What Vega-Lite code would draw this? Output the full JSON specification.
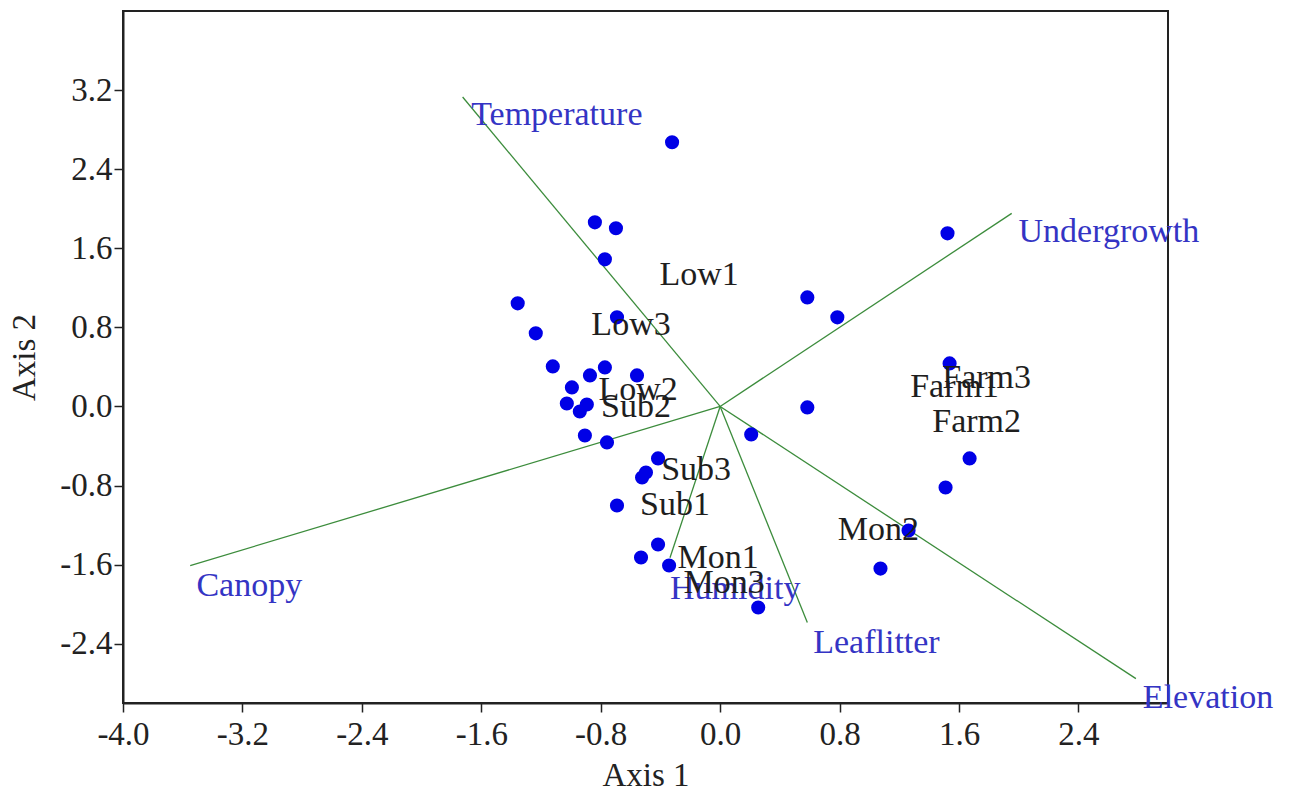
{
  "$schema": "https://vega.github.io/schema/vega-lite/v6.json",
  "width": 1045,
  "height": 692,
  "autosize": {"type": "none"},
  "padding": {"left": 123, "top": 11, "right": 122, "bottom": 89},
  "background": "white",
  "config": {
    "view": {"stroke": "#222222", "strokeWidth": 2},
    "font": "Liberation Serif",
    "axis": {
      "grid": false,
      "domainColor": "#222222",
      "domainWidth": 2,
      "tickColor": "#222222",
      "tickWidth": 1.5,
      "tickSize": 9,
      "labelFont": "Liberation Serif",
      "labelFontSize": 33,
      "labelColor": "#222222",
      "labelFlush": false,
      "labelOverlap": false,
      "titleFont": "Liberation Serif",
      "titleFontSize": 33,
      "titleFontWeight": "normal",
      "titleColor": "#222222"
    }
  },
  "datasets": {
    "vectors": [
      {"variable": "Temperature", "x0": 0, "y0": 0, "x1": -1.725, "y1": 3.13, "lx": -1.094, "ly": 2.945},
      {"variable": "Undergrowth", "x0": 0, "y0": 0, "x1": 1.953, "y1": 1.953, "lx": 2.604, "ly": 1.761},
      {"variable": "Canopy", "x0": 0, "y0": 0, "x1": -3.55, "y1": -1.61, "lx": -3.154, "ly": -1.812},
      {"variable": "Elevation", "x0": 0, "y0": 0, "x1": 2.785, "y1": -2.753, "lx": 3.268, "ly": -2.945},
      {"variable": "Leaflitter", "x0": 0, "y0": 0, "x1": 0.584, "y1": -2.186, "lx": 1.047, "ly": -2.389},
      {"variable": "Humidity", "x0": 0, "y0": 0, "x1": -0.336, "y1": -1.53, "lx": 0.101, "ly": -1.842}
    ],
    "points": [
      {"x": -0.322, "y": 2.672},
      {"x": -0.839, "y": 1.862},
      {"x": -0.698, "y": 1.802},
      {"x": -0.772, "y": 1.488},
      {"x": -1.356, "y": 1.043},
      {"x": -1.235, "y": 0.739},
      {"x": -0.691, "y": 0.901},
      {"x": -1.121, "y": 0.405},
      {"x": -0.772, "y": 0.395},
      {"x": -0.872, "y": 0.314},
      {"x": -0.557, "y": 0.314},
      {"x": -0.993, "y": 0.192},
      {"x": -1.027, "y": 0.03},
      {"x": -0.893, "y": 0.02},
      {"x": -0.94, "y": -0.051},
      {"x": -0.906, "y": -0.294},
      {"x": -0.758, "y": -0.364},
      {"x": -0.416, "y": -0.526},
      {"x": -0.523, "y": -0.719},
      {"x": -0.497, "y": -0.668},
      {"x": -0.691, "y": -1.002},
      {"x": -0.416, "y": -1.397},
      {"x": -0.53, "y": -1.528},
      {"x": -0.342, "y": -1.609},
      {"x": 0.255, "y": -2.034},
      {"x": 0.208, "y": -0.283},
      {"x": 0.584, "y": -0.01},
      {"x": 0.584, "y": 1.103},
      {"x": 0.785, "y": 0.901},
      {"x": 1.523, "y": 1.751},
      {"x": 1.537, "y": 0.435},
      {"x": 1.671, "y": -0.526},
      {"x": 1.51, "y": -0.82},
      {"x": 1.262, "y": -1.255},
      {"x": 1.074, "y": -1.64}
    ],
    "sites": [
      {"site": "Low1", "x": -0.141, "y": 1.326},
      {"site": "Low3", "x": -0.597, "y": 0.82},
      {"site": "Low2", "x": -0.55, "y": 0.162},
      {"site": "Sub2", "x": -0.564, "y": -0.01},
      {"site": "Sub3", "x": -0.161, "y": -0.648},
      {"site": "Sub1", "x": -0.302, "y": -1.002},
      {"site": "Mon1", "x": -0.013, "y": -1.538},
      {"site": "Mon3", "x": 0.027, "y": -1.79},
      {"site": "Mon2", "x": 1.06, "y": -1.255},
      {"site": "Farm1", "x": 1.57, "y": 0.192},
      {"site": "Farm3", "x": 1.785, "y": 0.283},
      {"site": "Farm2", "x": 1.718, "y": -0.162}
    ]
  },
  "layer": [
    {
      "data": {"name": "vectors"},
      "mark": {"type": "rule", "color": "#3c8c3c", "strokeWidth": 1.3},
      "encoding": {
        "x": {
          "field": "x0", "type": "quantitative",
          "scale": {"domain": [-4, 3], "nice": false, "zero": false},
          "axis": {
            "title": "Axis 1",
            "values": [-4, -3.2, -2.4, -1.6, -0.8, 0, 0.8, 1.6, 2.4],
            "labelExpr": "(datum.value < 0 ? '-' : '') + format(abs(datum.value), '.1f')",
            "labelPadding": 6,
            "titlePadding": 8
          }
        },
        "y": {
          "field": "y0", "type": "quantitative",
          "scale": {"domain": [-3, 4], "nice": false, "zero": false},
          "axis": {
            "title": "Axis 2",
            "values": [-2.4, -1.6, -0.8, 0, 0.8, 1.6, 2.4, 3.2],
            "labelExpr": "(datum.value < 0 ? '-' : '') + format(abs(datum.value), '.1f')",
            "labelPadding": 2,
            "titlePadding": 18
          }
        },
        "x2": {"field": "x1"},
        "y2": {"field": "y1"}
      }
    },
    {
      "data": {"name": "points"},
      "mark": {"type": "circle", "color": "#0000e6", "opacity": 1, "size": 200},
      "encoding": {
        "x": {"field": "x", "type": "quantitative"},
        "y": {"field": "y", "type": "quantitative"}
      }
    },
    {
      "data": {"name": "vectors"},
      "mark": {"type": "text", "color": "#3434c4", "fontSize": 34, "font": "Liberation Serif", "align": "center", "baseline": "middle"},
      "encoding": {
        "x": {"field": "lx", "type": "quantitative"},
        "y": {"field": "ly", "type": "quantitative"},
        "text": {"field": "variable"}
      }
    },
    {
      "data": {"name": "sites"},
      "mark": {"type": "text", "color": "#1e1e1e", "fontSize": 34, "font": "Liberation Serif", "align": "center", "baseline": "middle"},
      "encoding": {
        "x": {"field": "x", "type": "quantitative"},
        "y": {"field": "y", "type": "quantitative"},
        "text": {"field": "site"}
      }
    }
  ]
}
